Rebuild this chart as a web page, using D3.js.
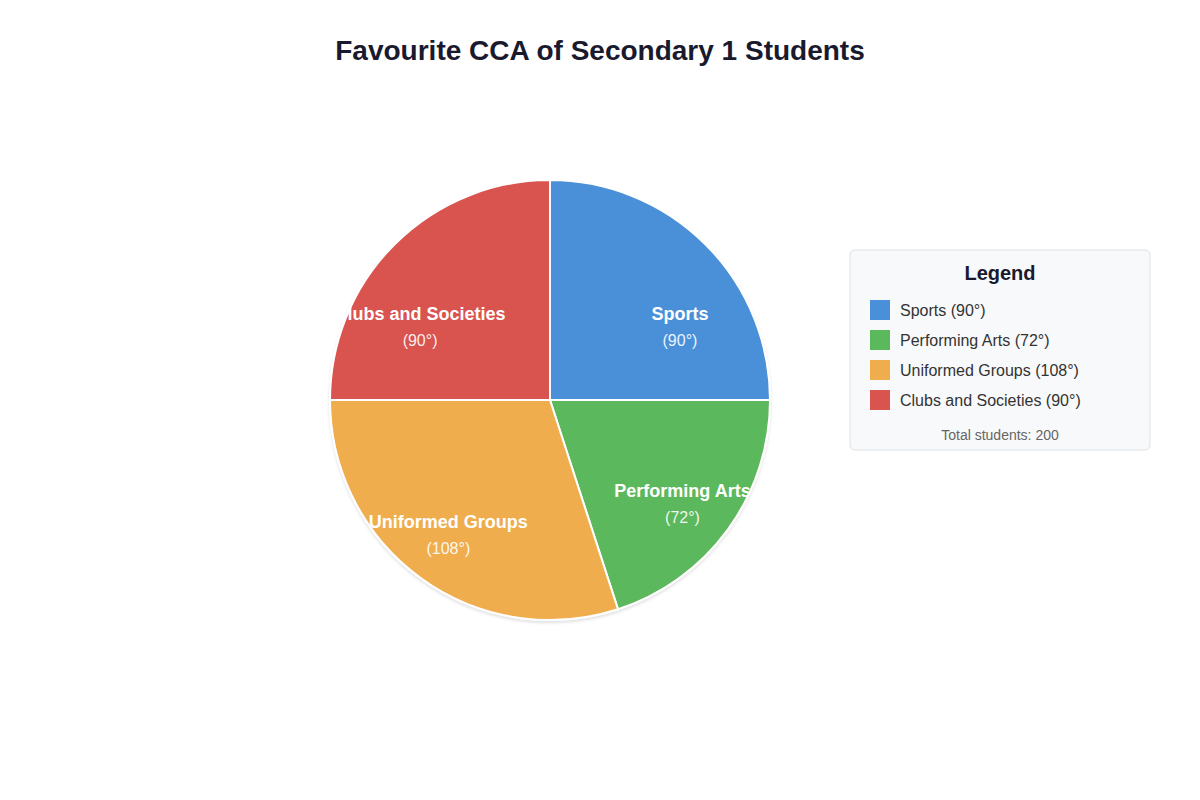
<!DOCTYPE html>
<html>
<head>
<meta charset="utf-8">
<script src="https://cdn.jsdelivr.net/npm/d3@7"></script>
<style>
  html, body { margin: 0; padding: 0; background: #ffffff; }
  svg { display: block; font-family: "Liberation Sans", Arial, Helvetica, sans-serif; }
</style>
</head>
<body>
<svg id="chart" width="1200" height="800"></svg>
<script>
const categories = ["Sports", "Performing Arts", "Uniformed Groups", "Clubs and Societies"];
const degrees = [90, 72, 108, 90];
const colors = ["#4a90d9", "#5cb85c", "#f0ad4e", "#d9534f"];
const totalStudents = 200;
const titleText = "Favourite CCA of Secondary 1 Students";

const svg = d3.select("#chart");
const W = 1200, H = 800;
const cx = 550, cy = 400, R = 220;

svg.append("text")
  .attr("x", W / 2).attr("y", 60)
  .attr("text-anchor", "middle")
  .attr("font-size", 28).attr("font-weight", "bold")
  .attr("fill", "#1a1a2e")
  .text(titleText);

const defs = svg.append("defs");
const f = defs.append("filter").attr("id", "shadow")
  .attr("x", "-20%").attr("y", "-20%").attr("width", "140%").attr("height", "140%");
f.append("feDropShadow").attr("dx", 0).attr("dy", 2).attr("stdDeviation", 1.5)
  .attr("flood-color", "#000").attr("flood-opacity", 0.12);
defs.append("clipPath").attr("id", "pieClip")
  .append("circle").attr("cx", 0).attr("cy", 0).attr("r", R);

const data = categories.map((c, i) => ({ name: c, value: degrees[i], color: colors[i] }));
const pie = d3.pie().value(d => d.value).sort(null);
const arcs = pie(data);
const arc = d3.arc().innerRadius(0).outerRadius(R);

const g = svg.append("g").attr("transform", `translate(${cx},${cy})`);
g.append("g").attr("filter", "url(#shadow)")
  .selectAll("path").data(arcs).join("path")
  .attr("d", arc)
  .attr("fill", d => d.data.color)
  .attr("stroke", "#ffffff").attr("stroke-width", 2);

// label placement: centroid on a label arc; upper-half labels pulled outward/down
function labelPos(d) {
  const mid = (d.startAngle + d.endAngle) / 2;
  const x0 = Math.sin(mid), y0 = -Math.cos(mid);
  if (y0 < 0) return [x0 * 166 * 1.107, y0 * 166 * 0.643];
  const a = mid + 1.5 * Math.PI / 180;
  return [Math.sin(a) * 167, -Math.cos(a) * 167];
}

const lg = g.append("g").attr("clip-path", "url(#pieClip)");
const labels = lg.selectAll("g.lbl").data(arcs).join("g")
  .attr("class", "lbl")
  .attr("transform", d => `translate(${labelPos(d)})`);
labels.append("text")
  .attr("text-anchor", "middle").attr("y", -4.5)
  .attr("font-size", 18).attr("font-weight", "bold").attr("fill", "#ffffff")
  .text(d => d.data.name);
labels.append("text")
  .attr("text-anchor", "middle").attr("y", 21.5)
  .attr("font-size", 16).attr("fill", "#ffffff").attr("fill-opacity", 0.92)
  .text(d => `(${d.data.value}°)`);

// legend
const lx = 850, ly = 250, lw = 300, lh = 200;
const leg = svg.append("g").attr("transform", `translate(${lx},${ly})`);
leg.append("rect").attr("width", lw).attr("height", lh).attr("rx", 5)
  .attr("fill", "#f8f9fa").attr("stroke", "#dee2e6").attr("stroke-width", 1);
leg.append("text").attr("x", lw / 2).attr("y", 30)
  .attr("text-anchor", "middle").attr("font-size", 20).attr("font-weight", "bold")
  .attr("fill", "#1a1a2e").text("Legend");
const rowY = d3.scaleBand().domain(categories).range([50, 170]);
const rows = leg.selectAll("g.row").data(data).join("g").attr("class", "row")
  .attr("transform", d => `translate(20,${rowY(d.name)})`);
rows.append("rect").attr("width", 20).attr("height", 20).attr("fill", d => d.color);
rows.append("text").attr("x", 30).attr("y", 15.5)
  .attr("font-size", 16).attr("fill", "#333333")
  .text(d => `${d.name} (${d.value}°)`);
leg.append("text").attr("x", lw / 2).attr("y", 190)
  .attr("text-anchor", "middle").attr("font-size", 14).attr("fill", "#666666")
  .text(`Total students: ${totalStudents}`);
</script>
</body>
</html>
